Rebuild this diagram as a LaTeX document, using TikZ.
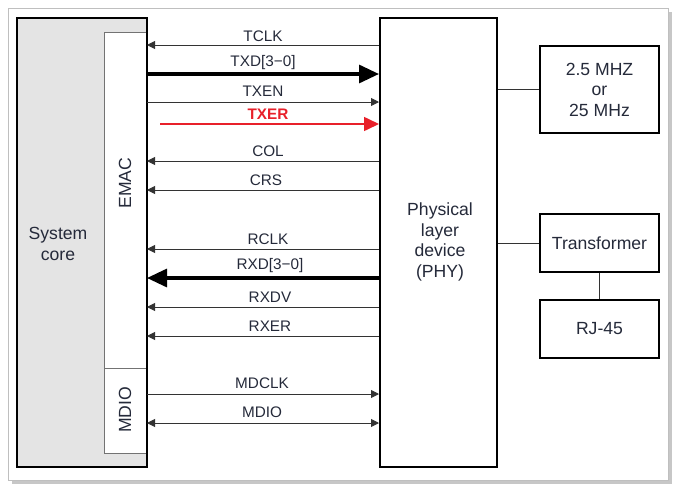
\documentclass[tikz,border=0pt]{standalone}
\usepackage{fontspec}
\setmainfont{Liberation Sans}
\usetikzlibrary{arrows.meta}
\definecolor{txt}{HTML}{252A3A}
\definecolor{redx}{HTML}{E8202A}
\definecolor{coregray}{HTML}{E4E4E4}
\begin{document}
\begin{tikzpicture}[x=1pt,y=-1pt,
  blk/.style={draw=black,line width=2pt},
  sig/.style={draw=black!80,line width=0.9pt},
  thk/.style={draw=black,line width=3.2pt},
  lab/.style={font=\fontsize{15.3}{15}\selectfont,text=txt,inner sep=0pt},
  blab/.style={font=\fontsize{17.6}{20.5}\selectfont,text=txt,align=center,inner sep=0pt},
  sh/.style={-{Triangle[length=8pt,width=8pt]}},
  bh/.style={-{Triangle[length=20pt,width=18pt]}},
]
\useasboundingbox (0,0) rectangle (681,491);
% frame with shadow
\fill[black!22] (12,12) rectangle (672,484);
\fill[white] (8,8) rectangle (668,480);
\draw[black!25,line width=0.8pt] (8,8) rectangle (668,480);
% blocks
\filldraw[fill=coregray,blk] (17,18) rectangle (147,467);
\coordinate (coreC) at (58,244);
\node[blab] (core) at (coreC) {System\\core};
\filldraw[fill=white,draw=black!55,line width=1pt] (104,32) rectangle (147,368);
\filldraw[fill=white,draw=black!55,line width=1pt] (104,368) rectangle (147,453);
\draw[blk] (147,18) -- (147,467);
\node[blab,rotate=90] (emac) at (125,183) {EMAC};
\node[blab,rotate=90] (mdiob) at (125,410) {MDIO};
\node[blk,minimum width=117pt,minimum height=449pt,inner sep=0pt] (phy) at (438.5,242.5) {};
\node[blab] at (440,242) {Physical\\layer\\device\\(PHY)};
\node[blk,minimum width=119pt,minimum height=87pt,inner sep=0pt,blab] (clk) at (599.5,89.5) {2.5 MHZ\\or\\25 MHz};
\node[blk,minimum width=119pt,minimum height=58pt,inner sep=0pt,blab] (tr) at (599.5,243) {Transformer};
\node[blk,minimum width=119pt,minimum height=58pt,inner sep=0pt,blab] (rj) at (599.5,329) {RJ-45};
\draw[sig] (phy.east |- clk.west) -- (clk.west);
\draw[sig] (phy.east |- tr.west) -- (tr.west);
\draw[sig] (tr.south) -- (rj.north);
% signals
\coordinate (L) at (147,0);
\coordinate (R) at (379,0);
\draw[sig,sh] (R |- 0,45) -- (L |- 0,45);
\node[lab] at (263,36) {TCLK};
\draw[thk,bh] (L |- 0,74) -- (R |- 0,74);
\node[lab] at (263,63) {TXD[3−0]};
\draw[sig,sh] (L |- 0,102) -- (R |- 0,102);
\node[lab] at (263,91) {TXEN};
\draw[redx,line width=1.6pt,-{Triangle[length=15pt,width=14pt]}] (160,124) -- (R |- 0,124);
\node[lab,text=redx,font=\fontsize{15.3}{15}\selectfont\bfseries] at (268,114) {TXER};
\draw[sig,sh] (R |- 0,161) -- (L |- 0,161);
\node[lab] at (268,151) {COL};
\draw[sig,sh] (R |- 0,190) -- (L |- 0,190);
\node[lab] at (266,180) {CRS};
\draw[sig,sh] (R |- 0,249) -- (L |- 0,249);
\node[lab] at (268,239) {RCLK};
\draw[thk,bh] (R |- 0,278) -- (L |- 0,278);
\node[lab] at (270,266) {RXD[3−0]};
\draw[sig,sh] (R |- 0,307) -- (L |- 0,307);
\node[lab] at (270,297) {RXDV};
\draw[sig,sh] (R |- 0,336) -- (L |- 0,336);
\node[lab] at (270,326) {RXER};
\draw[sig,sh] (L |- 0,394) -- (R |- 0,394);
\node[lab] at (262,383) {MDCLK};
\draw[sig,{Triangle[length=8pt,width=8pt]}-{Triangle[length=8pt,width=8pt]}] (L |- 0,423) -- (R |- 0,423);
\node[lab] at (262,412) {MDIO};
\end{tikzpicture}
\end{document}
